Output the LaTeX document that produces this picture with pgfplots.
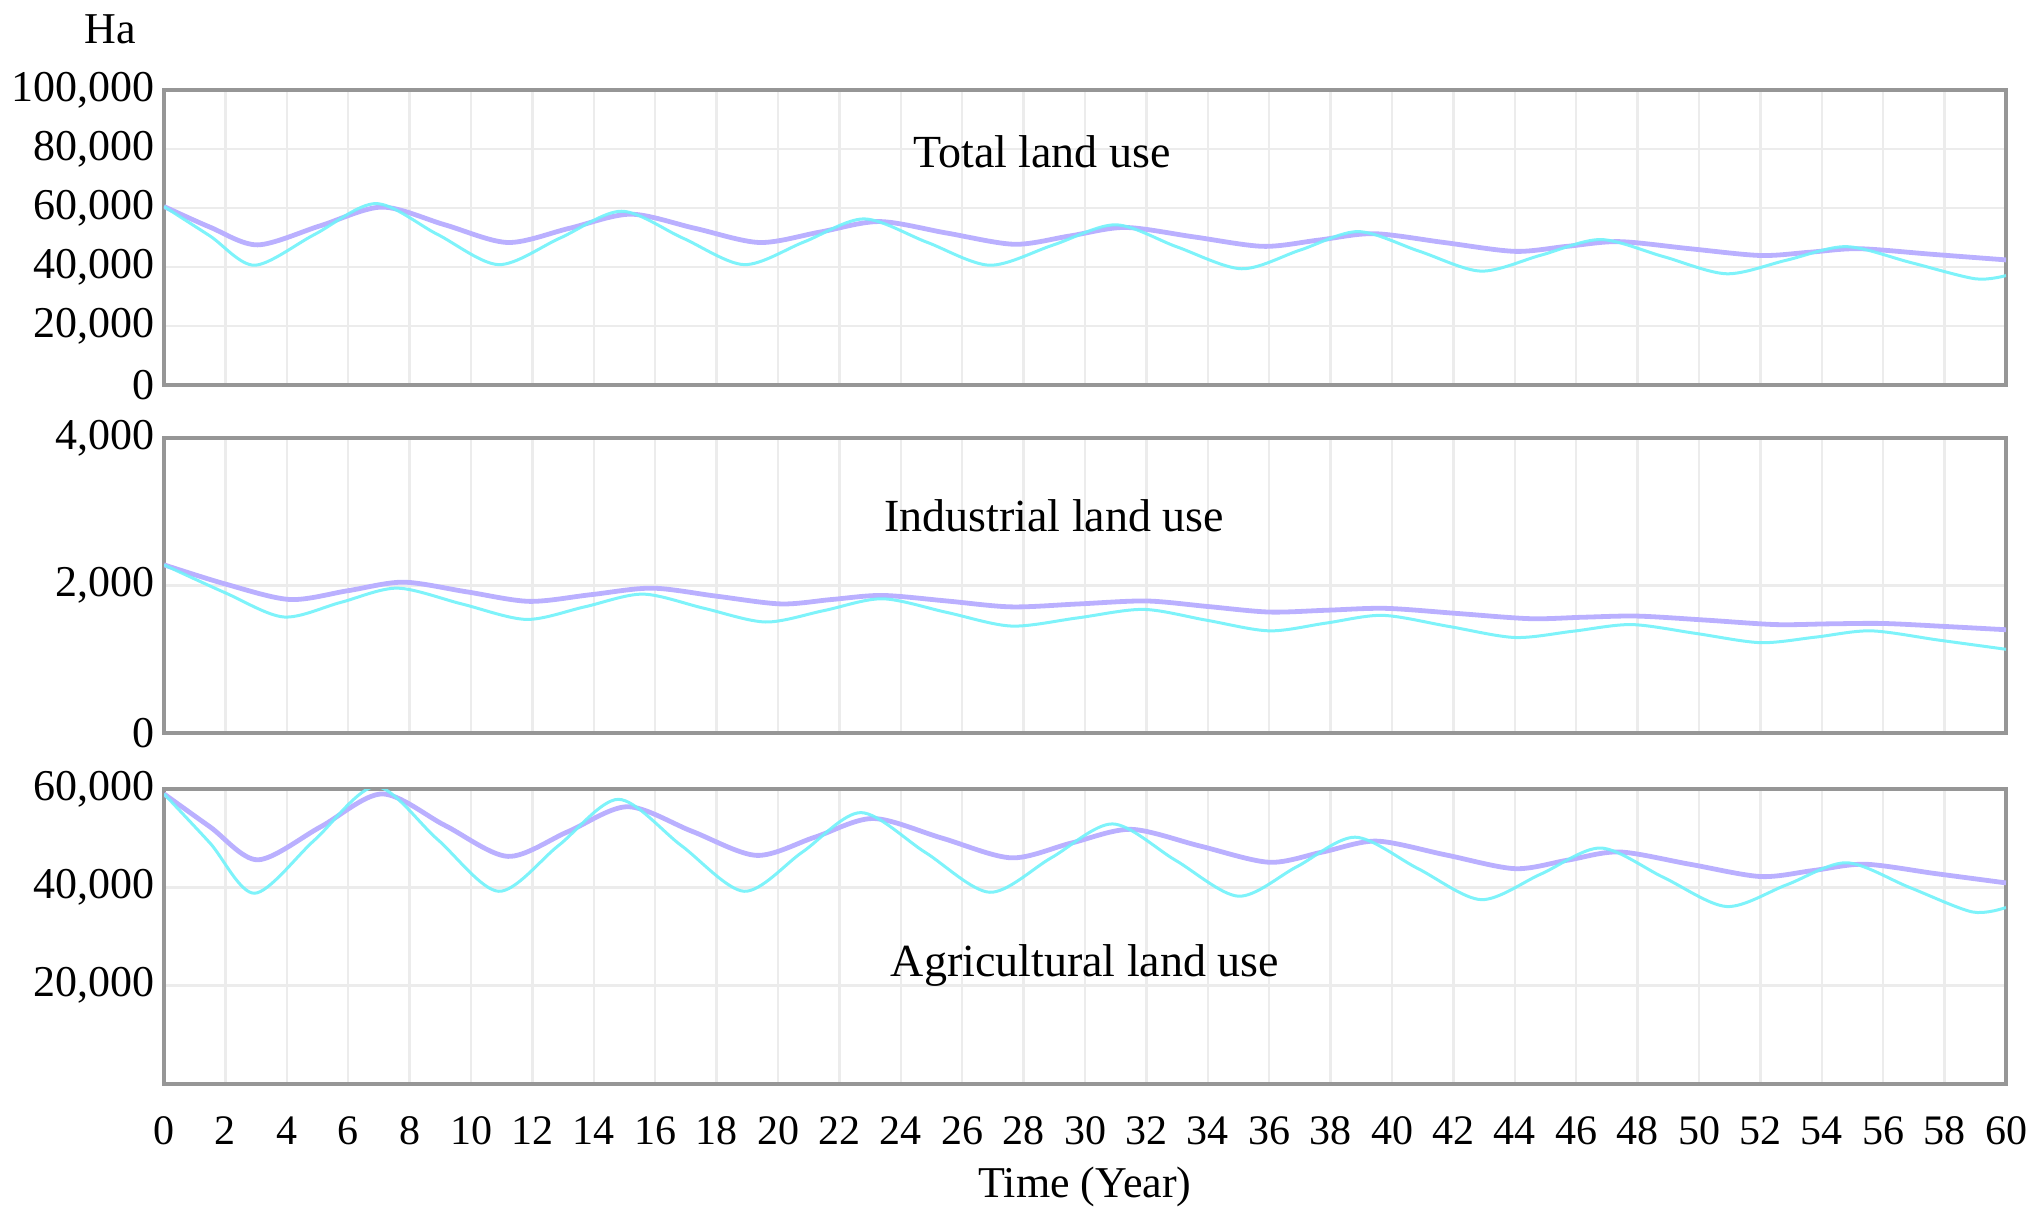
\documentclass[border=0pt]{standalone}
\usepackage{fontspec}
\setmainfont{Liberation Serif}
\usepackage{pgfplots}
\pgfplotsset{compat=1.18}

\definecolor{simpurple}{RGB}{186,176,255}
\definecolor{simcyan}{RGB}{112,242,250}
\definecolor{framegray}{RGB}{150,150,150}
\definecolor{gridgray}{RGB}{236,236,236}

\pgfplotsset{
  panel/.style={
    scale only axis,
    width=921pt, height=147.5pt,
    anchor=south west,
    xmin=0, xmax=60,
    xtick={0,2,...,60},
    grid=major,
    major grid style={draw=gridgray, line width=1.2pt},
    axis line style={draw=framegray, line width=1.6pt},
    major tick length=0pt,
    scaled y ticks=false,
    /pgf/number format/assume math mode=true,
    tick label style={font=\fontsize{22}{26}\selectfont},
    yticklabel style={xshift=-1pt},
    clip=true,
  },
  purpleline/.style={color=simpurple, line width=2.4pt, smooth, no markers},
  cyanline/.style={color=simcyan, line width=1.5pt, smooth, no markers, opacity=0.9},
}

\begin{document}
\begin{tikzpicture}
\path[use as bounding box] (0,0) rectangle (1015pt,610.5pt);

% Total land use
\begin{axis}[panel, at={(82pt,418pt)},
  ymin=0, ymax=100000, ytick={0,20000,...,100000},
  yticklabels={0,{20,000},{40,000},{60,000},{80,000},{100,000}},
  xticklabels={}]
\addplot[purpleline] coordinates {
(0,60500) (1.5,53500) (3.05,47500) (5.1,54000) (7.1,60300) (9.15,54300)
(11.2,48300) (13.2,53100) (15.2,57900) (17.3,53100) (19.4,48300) (21.35,51800)
(23.3,55400) (25.5,51500) (27.7,47700) (29.5,50500) (31.3,53400) (33.55,50200)
(35.8,47000) (37.6,49100) (39.4,51300) (41.7,48300) (44,45300) (45.7,47000)
(47.4,48600) (49.7,46200) (52,43900) (53.6,45000) (55.2,46200) (57.6,44300)
(60,42400)};
\addplot[cyanline] coordinates {
(0,60500) (1.5,50500) (2.95,40600) (4.9,51000) (6.9,61500) (8.9,51100)
(10.9,40800) (12.9,49800) (14.9,58900) (16.9,49800) (18.9,40800) (20.85,48500)
(22.8,56300) (24.85,48400) (26.9,40600) (28.95,47400) (31,54300) (33,46800)
(35.1,39400) (37,45700) (38.9,52000) (40.9,45300) (42.9,38600) (44.85,44000)
(46.8,49300) (48.85,43500) (50.9,37700) (52.85,42300) (54.8,46900) (56.9,41500)
(59,36000) (60,37100)};
\node[font=\fontsize{23}{27}\selectfont] at (axis cs:28.6,79000) {Total land use};
\end{axis}

% Industrial land use
\begin{axis}[panel, at={(82pt,244pt)},
  ymin=0, ymax=4000, ytick={0,2000,4000},
  yticklabels={0,{2,000},{4,000}},
  xticklabels={}]
\addplot[purpleline] coordinates {
(0,2280) (2,2020) (4.1,1810) (6,1930) (7.8,2045) (9.85,1915)
(11.9,1785) (13.9,1875) (15.9,1964) (18,1855) (20.1,1750) (21.75,1810)
(23.4,1865) (25.5,1790) (27.6,1710) (29.8,1750) (32,1790) (34,1715)
(36,1640) (37.9,1665) (39.8,1690) (42.15,1620) (44.5,1550) (46.25,1570)
(48,1585) (50.25,1530) (52.5,1470) (54.25,1480) (56,1485) (58,1445)
(60,1400)};
\addplot[cyanline] coordinates {
(0,2280) (2,1900) (3.9,1573) (5.75,1770) (7.6,1964) (9.7,1750)
(11.8,1540) (13.7,1710) (15.6,1883) (17.6,1690) (19.6,1505) (21.5,1660)
(23.4,1820) (25.5,1635) (27.6,1450) (29.75,1560) (31.9,1676) (33.95,1530)
(36,1385) (37.85,1490) (39.7,1595) (41.85,1445) (44,1295) (45.9,1380)
(47.8,1470) (49.9,1350) (52,1225) (53.8,1300) (55.6,1385) (57.8,1260)
(60,1135)};
\node[font=\fontsize{23}{27}\selectfont] at (axis cs:29.0,2945) {Industrial land use};
\end{axis}

% Agricultural land use
\begin{axis}[panel, at={(82pt,68.5pt)},
  ymin=0, ymax=60000, ytick={20000,40000,60000},
  yticklabels={{20,000},{40,000},{60,000}},
  xticklabel style={yshift=-13pt, font=\fontsize{21}{25}\selectfont},
  xlabel={Time (Year)},
  xlabel style={font=\fontsize{22}{26}\selectfont, yshift=-4pt}]
\addplot[purpleline] coordinates {
(0,59000) (1.5,52300) (3.05,45600) (5.1,52300) (7.1,59000) (9.15,52600)
(11.2,46300) (13.15,51300) (15.1,56400) (17.2,51400) (19.3,46500) (21.2,50200)
(23.1,54000) (25.35,50000) (27.6,46000) (29.55,49000) (31.5,51800) (33.75,48400)
(36,45100) (37.75,47200) (39.5,49400) (41.75,46600) (44,43800) (45.7,45500)
(47.4,47200) (49.7,44700) (52,42200) (53.7,43400) (55.4,44700) (57.7,42800)
(60,40900)};
\addplot[cyanline] coordinates {
(0,59000) (1.5,49000) (2.95,38800) (4.9,49600) (6.9,60500) (8.9,49800)
(10.9,39200) (12.85,48500) (14.8,57900) (16.85,48500) (18.9,39200) (20.8,47200)
(22.7,55200) (24.8,47100) (26.9,39000) (28.9,46000) (30.9,52900) (32.95,45500)
(35,38200) (36.9,44200) (38.8,50200) (40.85,43800) (42.9,37500) (44.85,42700)
(46.8,48000) (48.85,42000) (50.9,36100) (52.85,40500) (54.8,45000) (56.85,40000)
(58.9,35000) (60,35900)};
\node[font=\fontsize{23}{27}\selectfont] at (axis cs:30.0,24100) {Agricultural land use};
\end{axis}

\node[font=\fontsize{22}{26}\selectfont] at (55pt,596pt) {Ha};
\end{tikzpicture}
\end{document}
